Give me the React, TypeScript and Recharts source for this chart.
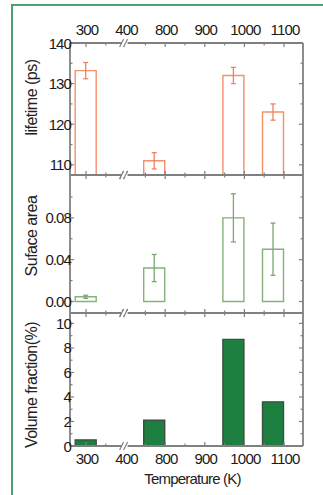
import React from 'react'
import { ComposedChart, Bar, Line, XAxis, YAxis, ErrorBar } from 'recharts'

// annealing temperatures (K) of the four samples
const temps = [300, 773, 973, 1073]
const lifetime = [133.2, 111, 132, 123]
const lifetimeErr = [2, 2, 2, 2]
const area = [0.0045, 0.032, 0.08, 0.05]
const areaErr = [0.0015, 0.013, 0.023, 0.025]
const volume = [0.5, 2.1, 8.7, 3.6]

const xMajor = [300, 400, 800, 900, 1000, 1100]
const xMinor = [350, 750, 850, 950, 1050]
const lifeMajor = [110, 120, 130, 140]
const lifeMinor = [115, 125, 135]
const areaMajor = [0, 0.04, 0.08]
const areaMinor = [0.02, 0.06, 0.1]
const volMajor = [0, 2, 4, 6, 8, 10]
const volMinor = [1, 3, 5, 7, 9]

// broken axis: 400 and 700 share the same spot
const brk = (t: number) => (t <= 400 ? (t - 300) / 100 : (t - 700) / 100 + 1)
const unbrk = (p: number) => (p <= 1 ? p * 100 + 300 : (p - 1) * 100 + 700)

const data = temps.map((t, i) => ({
  pos: brk(t),
  lifetime: lifetime[i],
  lifetimeErr: lifetimeErr[i],
  area: area[i],
  areaErr: areaErr[i],
  volume: volume[i],
}))

const xTicks = [...xMajor, ...xMinor].map(brk).sort((a, b) => a - b)
const X_DOMAIN = [-0.404, 5.48]
const FONT = '"Liberation Sans", Arial, sans-serif'
const AXIS = '#808080'

const XTick = (props: any) => {
  const { x, y, payload, side, labels } = props
  const p = payload.value
  const t = Math.round(unbrk(p))
  const major = xMajor.includes(t)
  const dir = side === 'top' ? 1 : -1
  const len = major ? 4 : 2.5
  const label = labels && major && (
    <text x={x + 1} y={side === 'top' ? y - 14 : y + 12} textAnchor="middle" dominantBaseline="central"
      fontSize={15} letterSpacing={-0.8} fill="#1a1a1a" fontFamily={FONT}>{t}</text>
  )
  if (t === 400) {
    return (
      <g>
        <rect x={x - 4} y={y - 2} width={6} height={4} fill="#fff" />
        <line x1={x - 6} y1={y + 4} x2={x - 2} y2={y - 4} stroke={AXIS} strokeWidth={1.2} />
        <line x1={x - 2} y1={y + 4} x2={x + 2} y2={y - 4} stroke={AXIS} strokeWidth={1.2} />
        {label}
      </g>
    )
  }
  return (
    <g>
      <line x1={x} y1={y} x2={x} y2={y + dir * len} stroke={AXIS} strokeWidth={1.2} />
      {label}
    </g>
  )
}

const YTick = (props: any) => {
  const { x, y, payload, side, majors, fmt } = props
  const v = payload.value
  const major = majors.some((m: number) => Math.abs(m - v) < 1e-9)
  const dir = side === 'left' ? 1 : -1
  const len = major ? 4 : 2.5
  return (
    <g>
      <line x1={x} y1={y} x2={x + dir * len} y2={y} stroke={AXIS} strokeWidth={1.2} />
      {side === 'left' && major && (
        <text x={x + 1} y={y} textAnchor="end" dominantBaseline="central"
          fontSize={15} letterSpacing={-0.9} fill="#1a1a1a" fontFamily={FONT}>{fmt(v)}</text>
      )}
    </g>
  )
}

const YTitle = (text: string, dy: number) => (props: any) => {
  const { viewBox } = props
  const cy = viewBox.y + viewBox.height / 2 + dy
  return (
    <text x={31} y={cy} transform={`rotate(-90 31 ${cy})`} textAnchor="middle" dominantBaseline="central"
      fontSize={16} letterSpacing={-0.5} fill="#222" fontFamily={FONT}>{text}</text>
  )
}

interface PanelProps {
  top: number
  height: number
  margin: { top: number; right: number; left: number; bottom: number }
  topLabels?: boolean
  bottomLabels?: boolean
  yKey: string
  errKey?: string
  yDomain: number[]
  yMajor: number[]
  yMinor: number[]
  fmt: (v: number) => string
  title: string
  titleDy: number
  fill: string
  stroke: string
  errColor?: string
}

const Panel = (p: PanelProps) => {
  const yTicks = [...p.yMajor, ...p.yMinor].sort((a, b) => a - b)
  return (
    <div style={{ position: 'absolute', left: 0, top: p.top }}>
      <ComposedChart width={323} height={p.height} data={data} margin={p.margin} baseValue="dataMin">
        <XAxis dataKey="pos" type="number" domain={X_DOMAIN} allowDataOverflow ticks={xTicks} interval={0}
          height={p.bottomLabels ? 45 : 1} tickSize={0} tickMargin={0} tickLine={false}
          axisLine={{ stroke: AXIS, strokeWidth: 1.8 }}
          tick={<XTick side="bottom" labels={p.bottomLabels} />}
          label={p.bottomLabels ? (props: any) => {
            const vb = props.viewBox
            return (
              <text x={vb.x + vb.width / 2 + 6} y={vb.y + 32} textAnchor="middle" dominantBaseline="central"
                fontSize={15} letterSpacing={-0.8} fill="#222" fontFamily={FONT}>Temperature (K)</text>
            )
          } : undefined} />
        <XAxis xAxisId="t" dataKey="pos" orientation="top" type="number" domain={X_DOMAIN} allowDataOverflow
          ticks={xTicks} interval={0} height={p.topLabels ? 30 : 1} tickSize={0} tickMargin={0} tickLine={false}
          axisLine={{ stroke: AXIS, strokeWidth: 1.8 }}
          tick={<XTick side="top" labels={p.topLabels} />} />
        <YAxis type="number" domain={p.yDomain} allowDataOverflow ticks={yTicks} interval={0} width={40}
          tickSize={0} tickMargin={0} tickLine={false} axisLine={{ stroke: AXIS, strokeWidth: 1.8 }}
          tick={<YTick side="left" majors={p.yMajor} fmt={p.fmt} />}
          label={YTitle(p.title, p.titleDy)} />
        <YAxis yAxisId="r" orientation="right" type="number" domain={p.yDomain} allowDataOverflow ticks={yTicks}
          interval={0} width={1} tickSize={0} tickMargin={0} tickLine={false}
          axisLine={{ stroke: AXIS, strokeWidth: 1.8 }}
          tick={<YTick side="right" majors={p.yMajor} fmt={p.fmt} />} />
        <Bar dataKey={p.yKey} barSize={21} fill={p.fill} stroke={p.stroke} strokeWidth={1.4} isAnimationActive={false}>
          {p.errKey && <ErrorBar dataKey={p.errKey} width={2.5} stroke={p.errColor} strokeWidth={1.3} />}
        </Bar>
        {/* invisible series so the top and right axes get the same scale */}
        <Line xAxisId="t" yAxisId="r" dataKey={p.yKey} stroke="none" dot={false} activeDot={false}
          isAnimationActive={false} />
      </ComposedChart>
    </div>
  )
}

export default function App() {
  return (
    <div style={{ position: 'absolute', left: 0, top: 0, width: 323, height: 495, background: '#fff', overflow: 'hidden' }}>
      <div style={{ position: 'absolute', left: 11, top: 4, width: 320, height: 500,
        borderLeft: '2px solid #4f9f70', borderTop: '2px solid #4f9f70' }} />
      <Panel top={0} height={180} margin={{ top: 13, right: 19, left: 30, bottom: 4 }} topLabels
        yKey="lifetime" errKey="lifetimeErr" yDomain={[107.5, 140]} yMajor={lifeMajor} yMinor={lifeMinor}
        fmt={(v) => String(v)} title="lifetime (ps)" titleDy={-11.5}
        fill="#fff" stroke="#f4906c" errColor="#f08060" />
      <Panel top={170} height={148} margin={{ top: 4, right: 19, left: 30, bottom: 4 }}
        yKey="area" errKey="areaErr" yDomain={[-0.011, 0.121]} yMajor={areaMajor} yMinor={areaMinor}
        fmt={(v) => v.toFixed(2)} title="Suface area" titleDy={-8}
        fill="#fff" stroke="#86b07c" errColor="#7aa870" />
      <Panel top={308} height={185} margin={{ top: 4, right: 19, left: 30, bottom: 2 }} bottomLabels
        yKey="volume" yDomain={[0, 10.85]} yMajor={volMajor} yMinor={volMinor}
        fmt={(v) => String(v)} title="Volume fraction(%)" titleDy={5.5}
        fill="#1d8040" stroke="#3b4f3c" />
    </div>
  )
}
